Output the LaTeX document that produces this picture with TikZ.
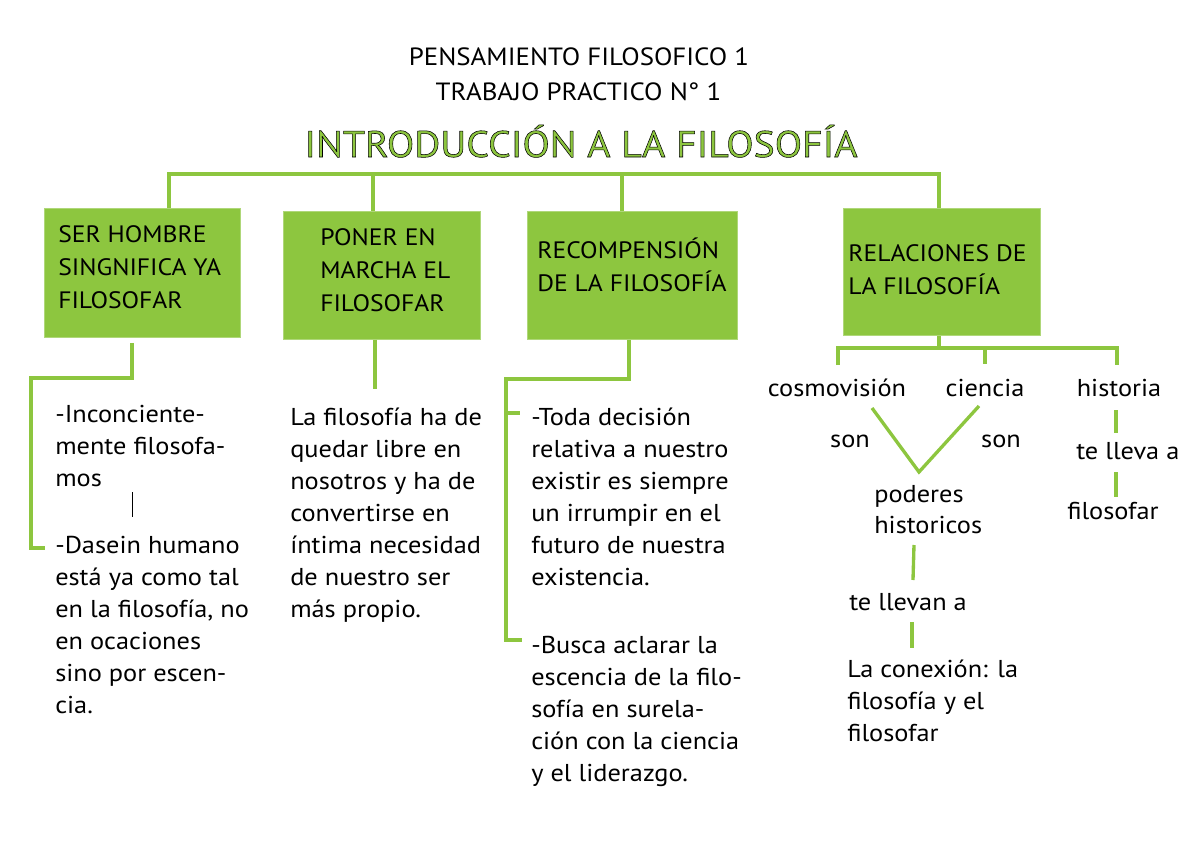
\documentclass[tikz,border=0pt]{standalone}
\usepackage{fontspec}
\setmainfont{PT Sans}[FakeStretch=1.08]
\usepackage{tikz}
\usetikzlibrary{positioning,calc}
\definecolor{lgreen}{RGB}{141,198,63}
% green letters with a thin black outline
\newcommand{\outlined}[1]{\special{pdf:literal direct 0 0 0 RG 0.4 w 2 Tr}#1\special{pdf:literal direct 0 Tr}}

\begin{document}
\begin{tikzpicture}[x=0.75pt,y=-0.75pt,
  lnk/.style={draw=lgreen,line width=2.5pt},
  box/.style={fill=lgreen,draw=lgreen!70!white,line width=0.6pt,anchor=north west,inner sep=0pt},
  txt/.style={font=\fontsize{18.3}{24}\selectfont,align=left,inner sep=0pt,anchor=base west},
  hd/.style={txt,font=\fontsize{17.8}{24.75}\selectfont},
  ttl/.style={font=\fontsize{18.7}{24}\selectfont,inner sep=0pt,anchor=base}]
\path[use as bounding box] (0,0) rectangle (1200,849);
% titles
\node[ttl](p1) at (579,65){PENSAMIENTO FILOSOFICO 1};
\node[ttl](p2) at (578.5,100){TRABAJO PRACTICO N° 1};
\node[ttl,font=\fontsize{27.7}{34}\selectfont,text=lgreen](p3) at (581,157){\outlined{INTRODUCCIÓN A LA FILOSOFÍA}};
% boxes
\node[box,minimum width=147pt,minimum height=96.75pt](b1) at (44,208){};
\node[box,minimum width=147.75pt,minimum height=96pt](b2) at (283,211){};
\node[box,minimum width=157.5pt,minimum height=96pt](b3) at (527,211){};
\node[box,minimum width=147.75pt,minimum height=95.25pt](b4) at (843,208){};
% (base = last line)
\node[hd](h1) at (58,308){SER HOMBRE\\SINGNIFICA YA\\FILOSOFAR};
\node[hd](h2) at (320,311){PONER EN\\MARCHA EL\\FILOSOFAR};
\node[hd](h3) at (537,291){RECOMPENSIÓN\\DE LA FILOSOFÍA};
\node[hd](h4) at (848,294){RELACIONES DE\\LA FILOSOFÍA};
% texts
\node[txt](a1) at (55,486){-Inconciente-\\mente filosofa-\\mos};
\node[txt](a2) at (55,713){-Dasein humano\\está ya como tal\\en la filosofía, no\\en ocaciones\\sino por escen-\\cia.};
\node[txt](c1) at (290,617){La filosofía ha de\\quedar libre en\\nosotros y ha de\\convertirse en\\íntima necesidad\\de nuestro ser\\más propio.};
\node[txt](r1) at (531,585){-Toda decisión\\relativa a nuestro\\existir es siempre\\un irrumpir en el\\futuro de nuestra\\existencia.};
\node[txt](r2) at (531,781){-Busca aclarar la\\escencia de la filo-\\sofía en surela-\\ción con la ciencia\\y el liderazgo.};
\node[txt,anchor=base](k1) at (837,396){cosmovisión};
\node[txt,anchor=base](k2) at (985,396){ciencia};
\node[txt,anchor=base](k3) at (1119,396){historia};
\node[txt,anchor=base](s1) at (850,447){son};
\node[txt,anchor=base](s2) at (1001,447){son};
\node[txt,font=\fontsize{18.3}{23.25}\selectfont](ph) at (874,533){poderes\\historicos};
\node[txt](tl) at (849,610){te llevan a};
\node[txt](cx) at (847,741){La conexión: la\\filosofía y el\\filosofar};
\node[txt](tv) at (1076,459){te lleva a};
\node[txt](fi) at (1067,519){filosofar};
\coordinate (e1) at (45,548);\coordinate (e2) at (520,413);\coordinate (e3) at (522,640);
% top tree
\draw[lnk]($(b1.north west)+(125,0)$)|-($(b4.north west)+(96,-34)$)--($(b4.north west)+(96,0)$);
\draw[lnk]($(b2.north west)+(90,0)$)--+(0,-37);\draw[lnk]($(b3.north west)+(95,0)$)--+(0,-37);
% under the boxes
\draw[lnk]($(b1.south west)+(88,5)$)|-(31,378)|-(e1);
\draw[black,line width=0.6pt](132,492)--(132,517);
\draw[lnk]($(b2.south west)+(92,0)$)--+(0,49);
\draw[lnk]($(b3.south west)+(102,0)$)|-(506,379)|-(e3);
\draw[lnk](506,413)--(e2);
\draw[lnk]($(b4.south west)+(96,0)$)--+(0,13);
\draw[lnk](838,365)|-(1117,348)--(1117,365);\draw[lnk](985,348)--(985,364);
% relations
\draw[lnk](872,408)--(919,472)--(979,406);
\draw[lnk](914,545)--(913,580);
\draw[lnk](912,622)--(912,648);
\draw[lnk](1116,410)--(1116,433);
\draw[lnk](1116,472)--(1116,497);
\end{tikzpicture}
\end{document}
